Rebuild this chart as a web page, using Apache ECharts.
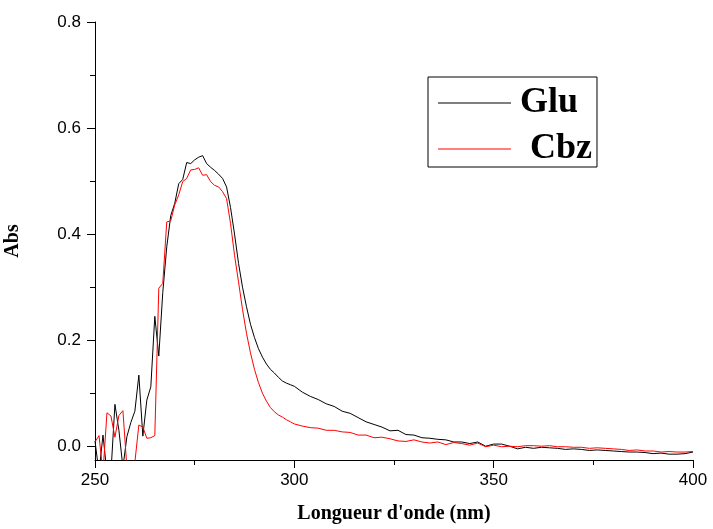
<!DOCTYPE html>
<html>
<head>
<meta charset="utf-8">
<script src="https://cdn.jsdelivr.net/npm/echarts@6/dist/echarts.min.js"></script>
<style>
  html, body { margin: 0; padding: 0; background: #fff; }
  #chart { width: 713px; height: 529px; }
</style>
</head>
<body>
<div id="chart"></div>
<script>
// Wavelengths (nm): 1 nm steps up to 300 nm, 2 nm steps after
const wavelengths = [
  250,251,252,253,254,255,256,257,258,259,260,261,262,263,264,265,266,267,268,269,
  270,271,272,273,274,275,276,277,278,279,280,281,282,283,284,285,286,287,288,289,
  290,291,292,293,294,295,296,297,298,299,300,
  302,304,306,308,310,312,314,316,318,320,322,324,326,328,330,332,334,336,338,340,
  342,344,346,348,350,352,354,356,358,360,362,364,366,368,370,372,374,376,378,380,
  382,384,386,388,390,392,394,396,398,400
];

// Absorbance, Glu
const glu = [
  0.010,-0.050,0.021,-0.050,-0.050,0.079,0.030,-0.040,0.018,0.045,0.066,0.134,0.019,0.087,0.112,0.245,0.170,0.290,0.376,0.435,
  0.458,0.495,0.503,0.535,0.533,0.540,0.545,0.548,0.533,0.526,0.520,0.513,0.505,0.489,0.450,0.400,0.345,0.300,0.263,0.230,
  0.205,0.184,0.168,0.155,0.145,0.138,0.130,0.123,0.119,0.116,0.113,
  0.102,0.094,0.088,0.080,0.075,0.066,0.062,0.054,0.046,0.041,0.036,0.029,0.030,0.022,0.021,0.016,0.015,0.013,0.012,0.008,
  0.008,0.005,0.008,0.000,0.004,0.004,0.000,-0.005,-0.002,-0.004,-0.002,-0.003,-0.004,-0.006,-0.005,-0.006,-0.008,-0.007,-0.008,-0.009,
  -0.010,-0.011,-0.011,-0.012,-0.014,-0.013,-0.015,-0.015,-0.014,-0.011
];

// Absorbance, Cbz
const cbz = [
  0.008,0.020,-0.050,0.063,0.057,0.017,0.058,0.067,-0.040,-0.050,-0.030,0.040,0.036,0.015,0.016,0.020,0.298,0.307,0.423,0.425,
  0.455,0.474,0.499,0.505,0.521,0.522,0.525,0.511,0.512,0.499,0.492,0.489,0.480,0.467,0.420,0.360,0.310,0.258,0.213,0.176,
  0.145,0.120,0.100,0.085,0.073,0.065,0.059,0.055,0.050,0.046,0.042,
  0.038,0.035,0.034,0.030,0.030,0.027,0.026,0.021,0.021,0.016,0.017,0.014,0.010,0.009,0.012,0.008,0.006,0.008,0.003,0.007,
  0.005,0.002,0.006,-0.001,0.002,-0.001,0.000,-0.001,0.001,0.001,0.000,0.001,-0.001,-0.001,-0.002,-0.002,-0.004,-0.003,-0.004,-0.005,
  -0.006,-0.008,-0.007,-0.009,-0.009,-0.011,-0.010,-0.011,-0.011,-0.010
];

const yMajorTicks = [0, 0.2, 0.4, 0.6, 0.8];
const yMinorTicks = [0.1, 0.3, 0.5, 0.7];

const pairs = (xs, ys) => xs.map((x, i) => [x, ys[i]]);

const sansFont = '"Liberation Sans", Arial, sans-serif';
const serifFont = '"Liberation Serif", "Times New Roman", serif';

const chart = echarts.init(document.getElementById('chart'), null, { renderer: 'canvas' });

chart.setOption({
  animation: false,
  backgroundColor: '#ffffff',
  grid: { left: 95, right: 20, top: 22, bottom: 69, containLabel: false, outerBoundsMode: 'none' },
  legend: {
    orient: 'vertical',
    left: 428,
    top: 77,
    padding: [8, 5, 0, 10],
    borderColor: '#000',
    borderWidth: 1,
    icon: 'rect',
    itemWidth: 73,
    itemHeight: 1,
    itemGap: 10,
    textStyle: { fontFamily: serifFont, fontWeight: 'bold', fontSize: 36, color: '#000' },
    data: [
      { name: 'Glu', textStyle: { padding: [0, 0, 0, 4] } },
      { name: 'Cbz', textStyle: { padding: [0, 0, 0, 14] } }
    ]
  },
  xAxis: {
    type: 'value',
    min: 250,
    max: 400,
    interval: 50,
    name: "Longueur d'onde (nm)",
    nameLocation: 'middle',
    nameGap: 44,
    nameTextStyle: { fontFamily: serifFont, fontWeight: 'bold', fontSize: 20, color: '#000' },
    axisLine: { onZero: false, lineStyle: { color: '#000', width: 1 } },
    axisTick: { inside: false, length: 8, lineStyle: { color: '#000' } },
    minorTick: { show: true, splitNumber: 2, length: 5, lineStyle: { color: '#000' } },
    splitLine: { show: false },
    axisLabel: { fontFamily: sansFont, fontSize: 17, color: '#000', margin: 12 }
  },
  yAxis: [
    {
      type: 'value',
      min: -0.026,
      max: 0.8,
      name: 'Abs',
      nameLocation: 'middle',
      nameGap: 72,
      nameTextStyle: { fontFamily: serifFont, fontWeight: 'bold', fontSize: 20, color: '#000' },
      axisLine: { show: true, onZero: false, lineStyle: { color: '#000', width: 1 } },
      axisTick: { show: true, inside: false, length: 8, customValues: yMajorTicks, lineStyle: { color: '#000' } },
      splitLine: { show: false },
      axisLabel: {
        fontFamily: sansFont, fontSize: 17, color: '#000', margin: 14,
        customValues: yMajorTicks,
        formatter: v => v.toFixed(1)
      }
    },
    {
      // minor ticks on the same left edge
      type: 'value',
      position: 'left',
      min: -0.026,
      max: 0.8,
      axisLine: { show: false },
      axisTick: { show: true, inside: false, length: 5, customValues: yMinorTicks, lineStyle: { color: '#000' } },
      axisLabel: { show: false },
      splitLine: { show: false }
    }
  ],
  series: [
    {
      name: 'Glu',
      type: 'line',
      data: pairs(wavelengths, glu),
      symbol: 'none',
      clip: true,
      lineStyle: { color: '#000000', width: 1 },
      itemStyle: { color: '#000000' }
    },
    {
      name: 'Cbz',
      type: 'line',
      data: pairs(wavelengths, cbz),
      symbol: 'none',
      clip: true,
      lineStyle: { color: '#ff0000', width: 1 },
      itemStyle: { color: '#ff0000' }
    }
  ]
});
</script>
</body>
</html>
